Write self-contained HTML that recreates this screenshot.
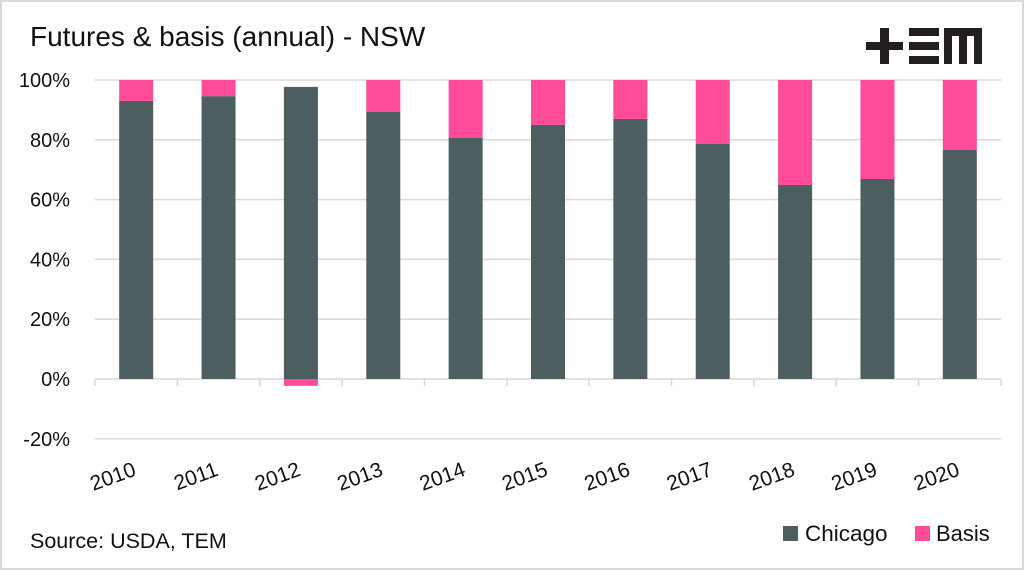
<!DOCTYPE html>
<html><head><meta charset="utf-8"><style>
body{margin:0;background:#fff;}
#wrap{position:relative;width:1024px;height:570px;overflow:hidden;font-family:"Liberation Sans",sans-serif;}
</style></head><body>
<div id="wrap">
<svg id="chart" width="1024" height="570">
<rect x="1" y="1" width="1022" height="568" fill="#fff" stroke="#d9d9d9" stroke-width="2"/>
<text x="30" y="46" font-size="28" fill="#111">Futures &amp; basis (annual) - NSW</text>
<g fill="#231f20">
<rect x="866" y="42" width="37" height="8"/><rect x="880" y="28" width="9" height="36"/>
<rect x="909" y="28" width="30" height="8"/><rect x="909" y="42" width="30" height="8"/><rect x="909" y="56" width="30" height="8"/>
<rect x="944" y="28" width="38" height="8"/><rect x="944" y="28" width="8" height="36"/><rect x="959" y="28" width="8" height="36"/><rect x="974" y="28" width="8" height="36"/>
</g>
<g id="grid"></g><g id="bars"></g><g id="labels"></g>
<text x="30" y="548" font-size="21.5" fill="#111">Source: USDA, TEM</text>
<rect x="783" y="526" width="15" height="15" fill="#4d5e60"/>
<text x="805" y="541" font-size="22.5" fill="#111">Chicago</text>
<rect x="915" y="526" width="15" height="15" fill="#ff4b98"/>
<text x="936" y="541" font-size="22" fill="#111">Basis</text>
</svg>
</div>
<script>
const categories=["2010","2011","2012","2013","2014","2015","2016","2017","2018","2019","2020"];
const chicago=[93,94.6,97.7,89.3,80.6,85,87,78.6,64.9,66.9,76.6];
const basis=[7,5.4,-2.3,10.7,19.4,15,13,21.4,35.1,33.1,23.4];
const yTicks=[-20,0,20,40,60,80,100];
const ns="http://www.w3.org/2000/svg";
const x0=95,x1=1001,bw=(x1-x0)/categories.length;
const y=v=>379-v*2.99;
function mk(t,a,p){const e=document.createElementNS(ns,t);for(const k in a)e.setAttribute(k,a[k]);p.appendChild(e);return e;}
const grid=document.getElementById('grid'),bars=document.getElementById('bars'),labels=document.getElementById('labels');
yTicks.forEach(v=>{
 const l=mk('line',{x1:x0,x2:x1,y1:y(v),y2:y(v),stroke:'#d9d9d9','stroke-width':1.5},grid);
 
 
 const t=mk('text',{x:70,y:y(v)+7,'font-size':20,'text-anchor':'end',fill:'#111'},labels);
 t.textContent=v+'%';
 
 
});
for(let i=0;i<=categories.length;i++){
 const tk=mk('line',{x1:x0+i*bw,x2:x0+i*bw,y1:y(0),y2:y(0)+7,stroke:'#d9d9d9','stroke-width':1.5},grid);
 
 
}
categories.forEach((c,i)=>{
 const cx=x0+(i+0.5)*bw,w=34;
 const c0=chicago[i],b=basis[i];
 const r1=mk('rect',{x:cx-w/2,y:y(Math.max(c0,0)),width:w,height:Math.abs(y(0)-y(c0)),fill:'#4d5e60'},bars);
 
 
 let top,bot;
 if(b>=0){bot=c0;top=c0+b;}else{top=0;bot=b;}
 const r2=mk('rect',{x:cx-w/2,y:y(top),width:w,height:y(bot)-y(top),fill:'#ff4b98'},bars);
 
 
 const lx=cx+1,ly=475;
 const t=mk('text',{x:lx,y:ly,'font-size':21,'text-anchor':'end',fill:'#111',transform:`rotate(-20 ${lx} ${ly})`},labels);
 t.textContent=c;
 
 
});
</script>
</body></html>
